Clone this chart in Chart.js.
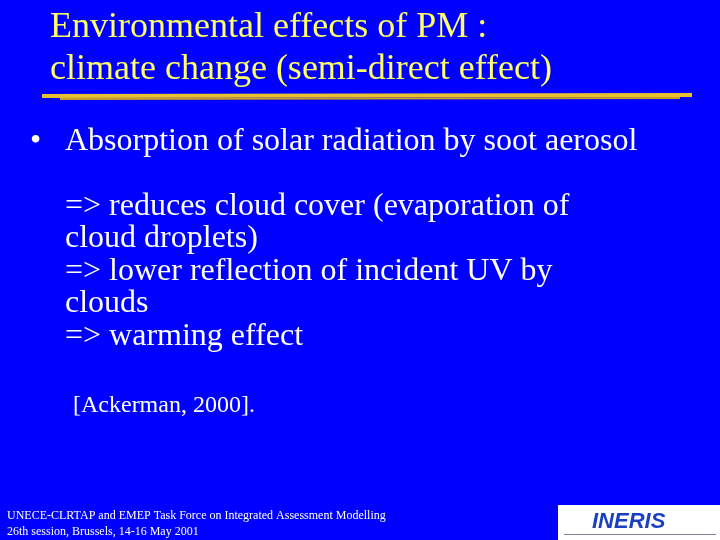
<!DOCTYPE html>
<html>
<head>
<meta charset="utf-8">
<script src="https://cdn.jsdelivr.net/npm/chart.js@4"></script>
<style>
html, body { margin: 0; padding: 0; background: #0000ff; }
#c { display: block; }
</style>
</head>
<body>
<canvas id="c" width="720" height="540"></canvas>
<script>
/* Textos de la diapositiva */
const titulo = ["Environmental effects of PM :", "climate change (semi-direct effect)"];
const vineta = "Absorption of solar radiation by soot aerosol";
const cuerpo = [
    "=> reduces cloud cover (evaporation of",
    "cloud droplets)",
    "=> lower reflection of incident UV by",
    "clouds",
    "=> warming effect"
];
const cita = "[Ackerman, 2000].";
const pie = [
    "UNECE-CLRTAP and EMEP Task Force on Integrated Assessment Modelling",
    "26th session, Brussels, 14-16 May 2001"
];

const serif = '"Liberation Serif", "DejaVu Serif", serif';

const diapositiva = {
    id: "diapositiva",
    beforeDraw(chart) {
        const ctx = chart.ctx;
        ctx.save();
        ctx.fillStyle = "#0000ff";
        ctx.fillRect(0, 0, 720, 540);

        ctx.fillStyle = "#ffff66";
        ctx.font = "36px " + serif;
        ctx.fillText(titulo[0], 50, 37);
        ctx.fillText(titulo[1], 50, 79);

        /* raya amarilla */
        ctx.strokeStyle = "#e8c030";
        ctx.lineWidth = 4;
        ctx.beginPath();
        ctx.moveTo(42, 96);
        ctx.lineTo(692, 95);
        ctx.stroke();
        ctx.lineWidth = 2;
        ctx.strokeStyle = "#c9a020";
        ctx.beginPath();
        ctx.moveTo(60, 99);
        ctx.lineTo(680, 98);
        ctx.stroke();

        ctx.fillStyle = "#ffffff";
        ctx.font = "32px " + serif;
        ctx.fillText("•", 30, 150);
        ctx.fillText(vineta, 65, 150);

        const ys = [215, 247, 280, 312, 345];
        cuerpo.forEach((t, i) => ctx.fillText(t, 65, ys[i]));

        ctx.font = "24px " + serif;
        ctx.fillText(cita, 73, 412);

        ctx.font = "12px " + serif;
        ctx.fillText(pie[0], 7, 519);
        ctx.fillText(pie[1], 7, 535);

        /* logo */
        ctx.fillStyle = "#ffffff";
        ctx.fillRect(558, 505, 162, 35);
        ctx.fillStyle = "#1a3fbf";
        ctx.font = "italic bold 22px \"Liberation Sans\", sans-serif";
        ctx.fillText("INERIS", 592, 528);
        ctx.fillStyle = "#8080a0";
        ctx.fillRect(564, 534, 152, 1);
        ctx.restore();
    }
};

new Chart(document.getElementById("c"), {
    type: "scatter",
    data: { datasets: [{ data: [] }] },
    options: {
        responsive: false,
        animation: false,
        events: [],
        plugins: { legend: { display: false }, tooltip: { enabled: false } },
        scales: { x: { display: false }, y: { display: false } }
    },
    plugins: [diapositiva]
});
</script>
</body>
</html>
